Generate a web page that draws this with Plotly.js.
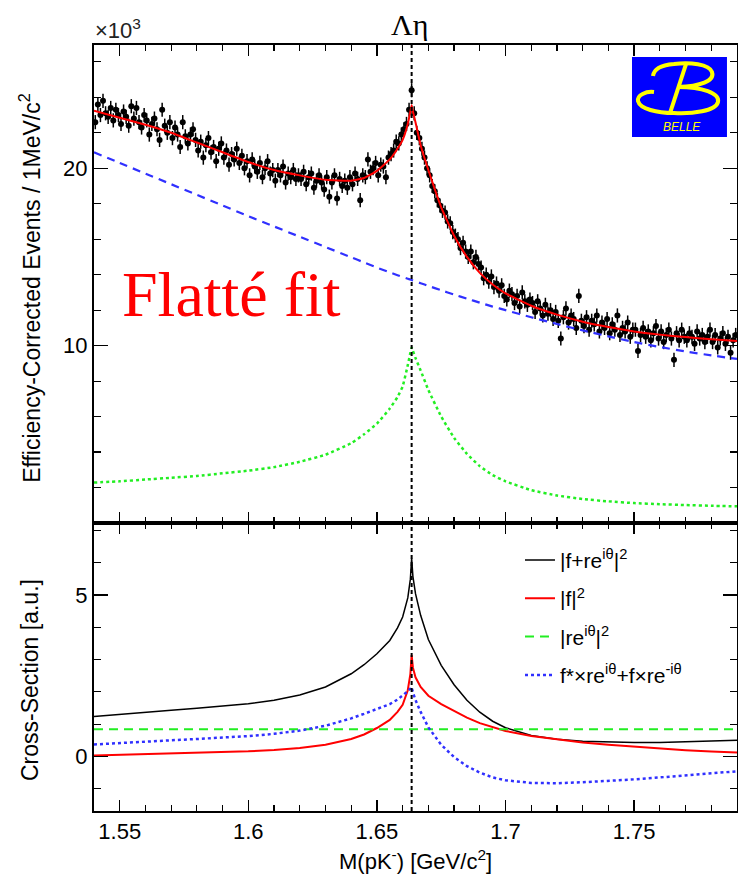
<!DOCTYPE html>
<html>
<head>
<meta charset="utf-8">
<script src="https://cdn.plot.ly/plotly-3.0.1.min.js"></script>
<style>html,body{margin:0;padding:0;background:#fff;}#chart{width:738px;height:876px;}</style>
</head>
<body>
<div id="chart"></div>
<script>
// ---------- DATA ----------
const thresholdMass = 1.6635; // Lambda-eta threshold [GeV/c^2]
const binStart = 1.5405;       // first bin centre
const binWidth = 0.001;        // 1 MeV bins
const eventErr = 0.4;          // x10^3
// efficiency-corrected events (x10^3), 1 MeV bins from 1.540 to 1.790
const events = [
  22.6, 23.6, 23.0, 23.8, 23.1, 22.9, 23.4, 22.7, 23.3, 23.0,
  22.5, 23.2, 22.9, 22.4, 23.5, 22.8, 23.4, 22.6, 22.3, 23.0,
  22.7, 21.9, 22.5, 22.8, 22.2, 21.6, 23.3, 22.4, 22.0, 22.6,
  21.7, 22.3, 21.9, 21.2, 22.6, 21.8, 21.4, 21.9, 22.2, 21.6,
  21.0, 21.5, 20.6, 21.3, 21.7, 20.9, 21.2, 20.4, 21.1, 21.4,
  20.6, 21.0, 20.2, 20.8, 20.5, 21.1, 20.3, 20.7, 20.0, 20.4,
  19.6, 20.5, 20.1, 19.8, 20.3, 19.5, 20.0, 20.4, 19.7, 19.9,
  19.3, 19.9, 19.6, 20.1, 19.2, 19.7, 19.5, 19.9, 19.4, 19.6,
  19.4, 19.8, 19.1, 19.5, 19.7, 18.9, 19.3, 19.6, 19.2, 18.8,
  19.5, 18.4, 19.2, 19.6, 18.3, 19.4, 19.0, 19.3, 18.9, 19.5,
  19.1, 19.7, 19.4, 18.2, 19.6, 19.5, 20.5, 19.8, 20.0, 20.3,
  19.6, 20.2, 20.1, 19.5, 20.6, 20.8, 21.0, 21.5, 21.4, 21.9,
  22.2, 22.5, 23.3, 24.4, 23.1, 22.0, 21.7, 21.1, 20.6, 20.0,
  19.6, 19.0, 18.7, 18.2, 17.9, 17.6, 17.5, 17.0, 16.9, 16.4,
  16.2, 16.0, 15.5, 15.8, 15.3, 15.0, 15.3, 14.7, 15.0, 14.6,
  14.4, 13.8, 14.0, 13.6, 13.9, 13.3, 13.5, 13.1, 13.4, 12.8,
  12.6, 13.1, 12.9, 12.4, 12.8, 12.2, 13.0, 12.5, 12.3, 12.6,
  12.4, 11.9, 12.5, 12.1, 11.7, 12.3, 11.8, 12.0, 11.5, 11.9,
  11.4, 10.4, 11.6, 12.1, 11.3, 11.7, 11.5, 11.0, 12.8, 11.4,
  11.1, 11.6, 10.9, 11.4, 11.2, 11.7, 10.8, 11.3, 11.0, 11.5,
  10.7, 11.2, 10.9, 11.7, 10.6, 11.0, 10.8, 11.3, 10.5, 10.9,
  10.9, 9.7, 10.6, 11.0, 10.5, 10.8, 10.3, 10.7, 11.1, 10.4,
  10.8, 10.2, 10.6, 10.9, 10.4, 9.2, 10.7, 10.3, 10.9, 10.5,
  10.3, 10.7, 10.5, 10.1, 10.8, 10.4, 10.6, 10.2, 10.5, 10.9,
  10.2, 10.6, 9.9, 10.4, 10.7, 10.1, 10.5, 9.6, 10.3, 10.6
];
// curve abscissae [GeV/c^2]
const mass = [1.54,1.55,1.56,1.57,1.58,1.59,1.60,1.61,1.62,1.63,1.64,1.645,1.65,1.655,1.658,1.66,1.662,1.663,1.6635,1.664,1.665,1.667,1.67,1.675,1.68,1.685,1.69,1.695,1.70,1.71,1.72,1.73,1.74,1.75,1.76,1.77,1.78,1.79];
// top panel (x10^3)
const fitTotal = [23.25,22.85,22.45,22.0,21.45,20.9,20.35,19.9,19.6,19.35,19.3,19.45,19.85,20.5,21.1,21.6,22.5,23.2,23.55,23.2,22.6,21.3,19.9,17.8,16.2,15.0,14.1,13.45,12.95,12.25,11.75,11.35,11.05,10.8,10.62,10.48,10.36,10.26];
const fitBackground = [20.9,20.3,19.7,19.1,18.5,17.9,17.3,16.72,16.14,15.56,14.98,14.69,14.4,14.13,13.97,13.87,13.77,13.73,13.7,13.67,13.62,13.52,13.37,13.12,12.88,12.65,12.42,12.2,12.0,11.6,11.22,10.86,10.52,10.2,9.92,9.67,9.45,9.25];
const fitSignal = [2.28,2.35,2.45,2.55,2.65,2.8,2.95,3.15,3.45,3.85,4.5,5.0,5.6,6.45,7.1,7.7,8.9,9.6,9.9,9.7,9.3,8.6,7.5,6.0,4.8,3.9,3.2,2.7,2.35,1.85,1.55,1.35,1.22,1.12,1.06,1.01,0.97,0.94];
// bottom panel (a.u.)
const xsTotal = [1.24,1.31,1.37,1.43,1.49,1.55,1.63,1.74,1.9,2.15,2.56,2.84,3.18,3.59,3.98,4.32,4.91,5.49,6.13,5.57,5.04,4.37,3.62,2.82,2.22,1.74,1.37,1.09,0.89,0.65,0.53,0.47,0.44,0.43,0.43,0.45,0.47,0.5];
const xsF = [0.03,0.05,0.07,0.09,0.11,0.13,0.16,0.2,0.26,0.36,0.54,0.68,0.88,1.13,1.38,1.6,2.05,2.55,3.14,2.75,2.45,2.15,1.88,1.62,1.4,1.2,1.03,0.9,0.79,0.63,0.52,0.43,0.36,0.3,0.24,0.19,0.15,0.12];
const xsRMass = [1.54, 1.79];
const xsR = [0.84, 0.84];
const xsInterf = [0.37,0.42,0.46,0.5,0.54,0.58,0.63,0.7,0.8,0.95,1.18,1.32,1.46,1.62,1.76,1.88,2.02,2.1,2.15,1.98,1.75,1.38,0.9,0.36,-0.02,-0.3,-0.5,-0.65,-0.74,-0.82,-0.83,-0.8,-0.76,-0.71,-0.65,-0.58,-0.52,-0.46];
const legendNames = ['|f+re<sup>iθ</sup>|<sup>2</sup>', '|f|<sup>2</sup>', '|re<sup>iθ</sup>|<sup>2</sup>', 'f*×re<sup>iθ</sup>+f×re<sup>-iθ</sup>'];
const xTickVals = [1.55, 1.6, 1.65, 1.7, 1.75];
const xTickText = ['1.55', '1.6', '1.65', '1.7', '1.75'];
const topTickVals = [10, 20];
const botTickVals = [0, 5];

// ---------- STYLE ----------
const SANS = 'Liberation Sans, Arial, sans-serif';
const SERIF = 'Liberation Serif, Times New Roman, serif';
const RED = '#ff0000', BLUE = '#3030ff', GREEN = '#22ee22';
const split = 0.376;

const traces = [
  {x0: binStart, dx: binWidth, y: events, type: 'scatter', mode: 'markers', xaxis: 'x2', yaxis: 'y2',
   marker: {color: 'black', size: 6}, error_y: {type: 'constant', value: eventErr, width: 0, thickness: 1.5, color: 'black'},
   showlegend: false, hoverinfo: 'skip'},
  {x: mass, y: fitBackground, type: 'scatter', mode: 'lines', xaxis: 'x2', yaxis: 'y2',
   line: {color: BLUE, width: 2.2, dash: '8px,6px', shape: 'spline', smoothing: 0.5}, showlegend: false},
  {x: mass, y: fitSignal, type: 'scatter', mode: 'lines', xaxis: 'x2', yaxis: 'y2',
   line: {color: GREEN, width: 2.5, dash: '3px,3px', shape: 'spline', smoothing: 0.4}, showlegend: false},
  {x: mass, y: fitTotal, type: 'scatter', mode: 'lines', xaxis: 'x2', yaxis: 'y2',
   line: {color: RED, width: 2, shape: 'spline', smoothing: 0.4}, showlegend: false},
  // bottom panel
  {x: mass, y: xsTotal, type: 'scatter', mode: 'lines', xaxis: 'x', yaxis: 'y', name: legendNames[0], legendgroup: 'a',
   line: {color: 'black', width: 1.5}},
  {x: mass, y: xsF, type: 'scatter', mode: 'lines', xaxis: 'x', yaxis: 'y', name: legendNames[1], legendgroup: 'b',
   line: {color: RED, width: 2}},
  {x: xsRMass, y: xsR, type: 'scatter', mode: 'lines', xaxis: 'x', yaxis: 'y', name: legendNames[2], legendgroup: 'c',
   line: {color: GREEN, width: 2, dash: '9px,6px'}},
  {x: mass, y: xsInterf, type: 'scatter', mode: 'lines', xaxis: 'x', yaxis: 'y', name: legendNames[3], legendgroup: 'd',
   line: {color: BLUE, width: 2.5, dash: '3px,3px'}}
];

const axisCommon = {
  showline: true, linewidth: 2, linecolor: 'black', mirror: 'allticks',
  ticks: 'inside', tickcolor: 'black', tickwidth: 1.5, showgrid: false, zeroline: false,
  tickfont: {family: SANS, size: 22, color: 'black'}
};

const layout = {
  width: 738, height: 876,
  margin: {l: 94, r: 1, t: 45, b: 65},
  paper_bgcolor: 'white', plot_bgcolor: 'white',
  showlegend: true,
  legend: {x: 0.6625, xanchor: 'left', y: 0.354, yanchor: 'top', bgcolor: 'rgba(0,0,0,0)',
           font: {family: SANS, size: 21, color: 'black'}, traceorder: 'grouped', tracegroupgap: 8},
  xaxis: Object.assign({}, axisCommon, {domain: [0, 1], anchor: 'y', range: [1.54, 1.79],
           tickmode: 'array', tickvals: xTickVals, ticktext: xTickText, ticklen: 11,
           minor: {dtick: 0.01, tick0: 1.54, ticklen: 6, ticks: 'inside', tickcolor: 'black', tickwidth: 1.2}}),
  xaxis2: Object.assign({}, axisCommon, {domain: [0, 1], anchor: 'y2', matches: 'x', range: [1.54, 1.79],
           tickmode: 'array', tickvals: xTickVals, ticklen: 11, showticklabels: false,
           minor: {dtick: 0.01, tick0: 1.54, ticklen: 6, ticks: 'inside', tickcolor: 'black', tickwidth: 1.2}}),
  yaxis: Object.assign({}, axisCommon, {domain: [0, split], anchor: 'x', range: [-1.69, 7.23],
           tickmode: 'array', tickvals: botTickVals, ticklen: 14,
           minor: {dtick: 1, tick0: 0, ticklen: 7, ticks: 'inside', tickcolor: 'black', tickwidth: 1.2}}),
  yaxis2: Object.assign({}, axisCommon, {domain: [split, 1], anchor: 'x2', range: [0, 26.95],
           tickmode: 'array', tickvals: topTickVals, ticklen: 14,
           minor: {dtick: 2, tick0: 0, ticklen: 7, ticks: 'inside', tickcolor: 'black', tickwidth: 1.2}}),
  shapes: [
    {type: 'line', xref: 'x', yref: 'paper', x0: thresholdMass, x1: thresholdMass, y0: 0, y1: 1,
     line: {color: 'black', width: 2, dash: '4px,3px'}},
    // Belle logo
    {type: 'rect', xref: 'paper', yref: 'paper', x0: 0.8367, x1: 0.9844, y0: 0.8799, y1: 0.9843,
     fillcolor: '#0000ff', line: {width: 0}},
    {type: 'path', xref: 'paper', yref: 'paper', xsizemode: 'pixel', ysizemode: 'pixel', xanchor: 0.8367, yanchor: 0.9843,
     path: 'M 21,-19 C 22,-11 30,-8 42,-7 C 58,-5 77,-7 80,-15 C 83,-24 68,-29 46,-30 C 70,-30 88,-36 86,-45 C 84,-54 60,-57 42,-56 C 25,-56 8,-52 6,-44 C 5,-38 14,-34 22,-35',
     line: {color: '#ffff00', width: 4}},
    {type: 'path', xref: 'paper', yref: 'paper', xsizemode: 'pixel', ysizemode: 'pixel', xanchor: 0.8367, yanchor: 0.9843,
     path: 'M 54,-7 L 38,-56', line: {color: '#ffff00', width: 4}}
  ],
  annotations: [
    {text: 'Λη', xref: 'paper', yref: 'paper', x: 0.4914, y: 1.0274, xanchor: 'center', yanchor: 'middle', showarrow: false,
     font: {family: SERIF, size: 30, color: 'black'}},
    {text: '×10<sup>3</sup>', xref: 'paper', yref: 'paper', x: -0.002, y: 1, xanchor: 'left', yanchor: 'bottom', showarrow: false,
     font: {family: SANS, size: 22, color: '#222'}},
    {text: 'Flatté fit', xref: 'paper', yref: 'y2', x: 0.0404, y: 12.9, xanchor: 'left', yanchor: 'middle', showarrow: false,
     font: {family: SERIF, size: 64, color: RED}},
    {text: 'BELLE', xref: 'paper', yref: 'paper', x: 0.9145, y: 0.893, xanchor: 'center', yanchor: 'middle', showarrow: false,
     font: {family: SANS, size: 12, color: '#ffff00', style: 'italic'}},
    {text: 'Efficiency-Corrected Events / 1MeV/c<sup>2</sup>', xref: 'paper', yref: 'paper', x: -0.0995, y: 0.683,
     xanchor: 'center', yanchor: 'middle', textangle: -90, showarrow: false, font: {family: SANS, size: 23, color: 'black'}},
    {text: 'Cross-Section [a.u.]', xref: 'paper', yref: 'paper', x: -0.0995, y: 0.171,
     xanchor: 'center', yanchor: 'middle', textangle: -90, showarrow: false, font: {family: SANS, size: 23, color: 'black'}},
    {text: 'M(pK<sup>-</sup>) [GeV/c<sup>2</sup>]', xref: 'paper', yref: 'paper', x: 0.5, y: -0.0635,
     xanchor: 'center', yanchor: 'middle', showarrow: false, font: {family: SANS, size: 22, color: 'black'}}
  ]
};

Plotly.newPlot('chart', traces, layout, {staticPlot: true, displayModeBar: false});
</script>
</body>
</html>
